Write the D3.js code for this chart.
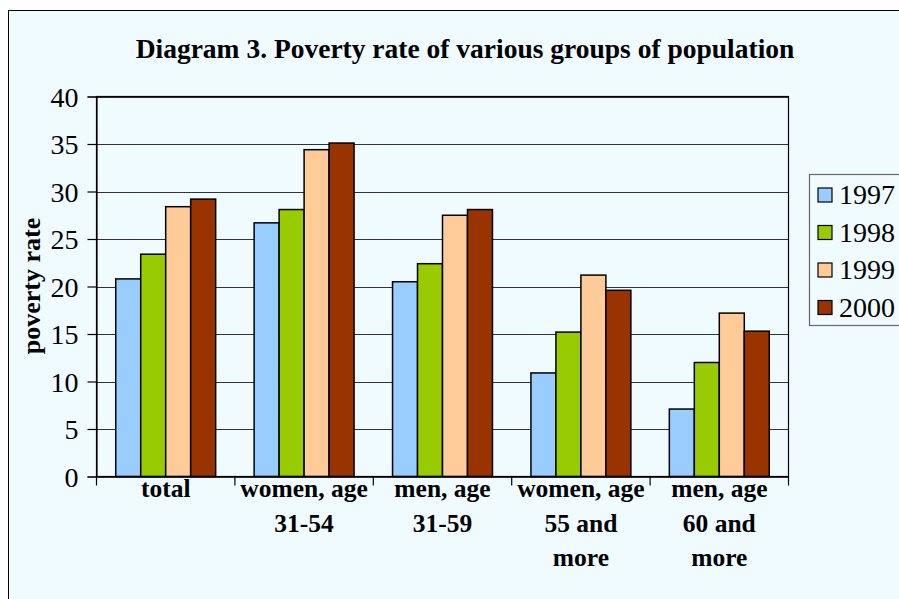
<!DOCTYPE html>
<html>
<head>
<meta charset="utf-8">
<script src="https://cdn.jsdelivr.net/npm/d3@7"></script>
<style>
    body { margin: 0; background: #fff; }
    svg { display: block; }
    svg text { font-family: "Liberation Serif", "DejaVu Serif", serif; }
</style>
</head>
<body>
<svg id="chart" width="899" height="599"></svg>
<script>
// chart data
const categories = [
    ['total'],
    ['women, age', '31-54'],
    ['men, age', '31-59'],
    ['women, age', '55 and', 'more'],
    ['men, age', '60 and', 'more']
]
const years = ['1997', '1998', '1999', '2000']
const values1997 = [20.8, 26.7, 20.5, 10.9, 7.1]
const values1998 = [23.4, 28.1, 22.4, 15.2, 12.0]
const values1999 = [28.4, 34.4, 27.5, 21.2, 17.2]
const values2000 = [29.2, 35.1, 28.1, 19.6, 15.3]
const yTicks = [0, 5, 10, 15, 20, 25, 30, 35, 40]
const colors = ['#99ccff', '#99cc00', '#ffcc99', '#993300']

const series = [values1997, values1998, values1999, values2000]

let svg = d3.select('#chart')

// outer chart area
svg.append('rect')
    .attr('x', 8.5)
    .attr('y', 10.5)
    .attr('width', 1000)
    .attr('height', 1000)
    .attr('fill', '#f0fbff')
    .attr('stroke', '#000')

const margin = { left: 96.5, right: 788.5, top: 96.5, bottom: 476.5 }

let x0 = d3.scaleBand()
    .domain(d3.range(categories.length))
    .range([margin.left, margin.right])

let x1 = d3.scaleBand()
    .domain(years)
    .range([0, x0.bandwidth()])
    .paddingOuter(0.77)

let y = d3.scaleLinear()
    .domain([0, 40])
    .range([margin.bottom, margin.top])

svg.append('text')
    .attr('x', 465)
    .attr('y', 58)
    .attr('text-anchor', 'middle')
    .attr('font-weight', 'bold')
    .attr('font-size', 27.5)
    .text('Diagram 3. Poverty rate of various groups of population')

// gridlines
svg.append('g')
    .selectAll('line')
    .data(yTicks)
    .enter().append('line')
    .attr('x1', margin.left)
    .attr('x2', margin.right)
    .attr('y1', d => Math.round(y(d)) + 0.5)
    .attr('y2', d => Math.round(y(d)) + 0.5)
    .attr('stroke', '#333')
    .attr('stroke-width', 1.2)

// bars
let group = svg.append('g')
    .selectAll('g')
    .data(categories)
    .enter().append('g')
    .attr('transform', (d, i) => 'translate(' + x0(i) + ',0)')

group.selectAll('rect')
    .data((d, i) => years.map((yr, j) => ({ year: yr, value: series[j][i], color: colors[j] })))
    .enter().append('rect')
    .attr('x', d => x1(d.year))
    .attr('y', d => y(d.value))
    .attr('width', x1.bandwidth())
    .attr('height', d => y(0) - y(d.value))
    .attr('fill', d => d.color)
    .attr('stroke', '#000')
    .attr('stroke-width', 1.5)

// plot border
svg.append('rect')
    .attr('x', margin.left)
    .attr('y', margin.top)
    .attr('width', margin.right - margin.left)
    .attr('height', margin.bottom - margin.top)
    .attr('fill', 'none')
    .attr('stroke', '#000')
    .attr('stroke-width', 1.2)

// y axis
let yAxis = svg.append('g')
    .attr('transform', 'translate(' + margin.left + ',0)')
    .call(d3.axisLeft(y).tickValues(yTicks).tickSize(9).tickPadding(9))
yAxis.attr('font-family', null).attr('font-size', null)
yAxis.select('.domain').attr('stroke', '#000').attr('stroke-width', 1.2)
yAxis.selectAll('.tick line').attr('stroke', '#000').attr('stroke-width', 1.2)
yAxis.selectAll('.tick text')
    .attr('font-size', 28)
    .attr('fill', '#000')
    .attr('dy', '0.34em')

svg.append('text')
    .attr('transform', 'translate(40,286) rotate(-90)')
    .attr('text-anchor', 'middle')
    .attr('font-weight', 'bold')
    .attr('font-size', 26)
    .text('poverty rate')

// x axis ticks at category boundaries
let xTicks = d3.range(categories.length + 1).map(i => i < categories.length ? x0(i) : margin.right)
svg.append('g')
    .selectAll('line')
    .data(xTicks)
    .enter().append('line')
    .attr('x1', d => d)
    .attr('x2', d => d)
    .attr('y1', margin.bottom)
    .attr('y2', margin.bottom + 9)
    .attr('stroke', '#000')
    .attr('stroke-width', 1.2)

let labels = svg.append('g')
    .selectAll('text')
    .data(categories)
    .enter().append('text')
    .attr('text-anchor', 'middle')
    .attr('font-weight', 'bold')
    .attr('font-size', 25.5)

labels.selectAll('tspan')
    .data((d, i) => d.map(line => ({ line: line, i: i })))
    .enter().append('tspan')
    .attr('x', d => x0(d.i) + x0.bandwidth() / 2)
    .attr('y', (d, k) => 497 + k * 34.5)
    .text(d => d.line)

// legend
let legend = svg.append('g')
legend.append('rect')
    .attr('x', 809.5)
    .attr('y', 174.5)
    .attr('width', 200)
    .attr('height', 151)
    .attr('fill', '#f0fbff')
    .attr('stroke', '#666')
    .attr('stroke-width', 1.2)

let legendItem = legend.selectAll('g')
    .data(years)
    .enter().append('g')
    .attr('transform', (d, i) => 'translate(818,' + (188 + i * 37.5) + ')')

legendItem.append('rect')
    .attr('width', 14)
    .attr('height', 14)
    .attr('fill', (d, i) => colors[i])
    .attr('stroke', '#000')
    .attr('stroke-width', 1.2)

legendItem.append('text')
    .attr('x', 21)
    .attr('y', 16)
    .attr('font-size', 28)
    .text(d => d)
</script>
</body>
</html>
